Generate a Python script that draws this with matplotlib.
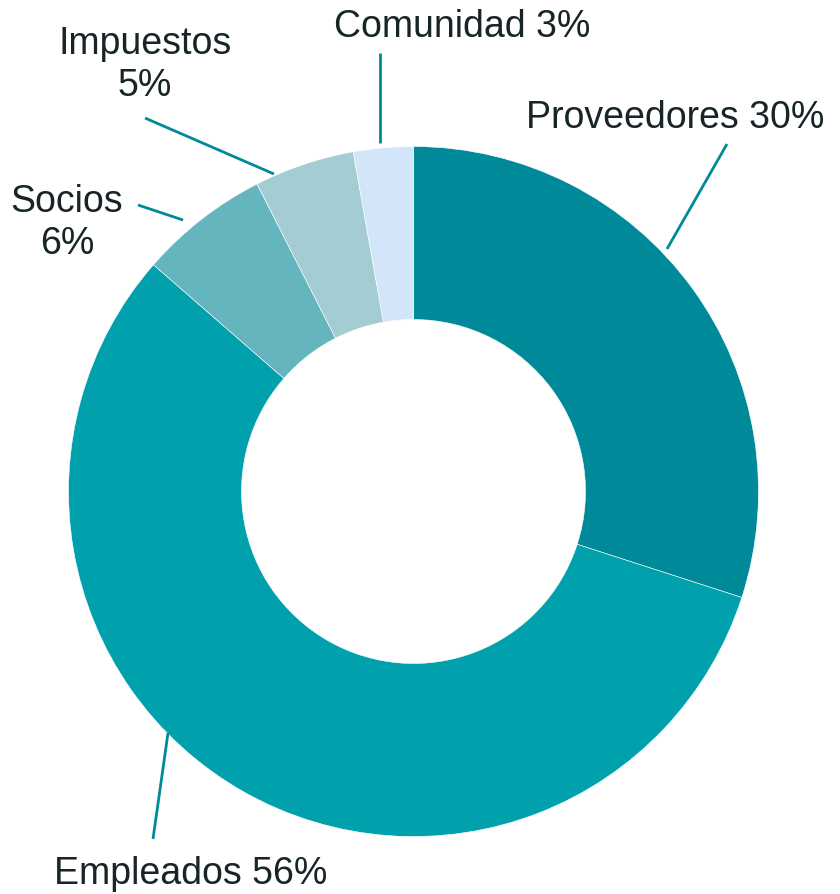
import matplotlib.pyplot as plt

# --- Data ---
CATEGORIES = ["Proveedores", "Empleados", "Socios", "Impuestos", "Comunidad"]
SHARES = [30.0, 56.5, 6.1, 4.7, 2.8]
LABELS = ["Proveedores 30%", "Empleados 56%", "Socios\n6%", "Impuestos\n5%", "Comunidad 3%"]

COLORS = ["#008A99", "#00A0AD", "#65B5BF", "#A3CDD3", "#D3E6F9"]
LINE_COLOR = "#008A99"
TEXT_COLOR = "#172526"

W, H = 840, 894

# layout in pixel space (top-left origin): label centre, leader line start/end
LABEL_POS = {
    "Proveedores": (675, 118),
    "Empleados": (191, 874),
    "Socios": (67, 223),
    "Impuestos": (145, 65),
    "Comunidad": (462, 27),
}
LEADERS = {
    "Proveedores": ((667, 249), (727, 144)),
    "Empleados": ((168, 733), (153, 839)),
    "Socios": ((183, 220), (138, 205)),
    "Impuestos": ((274, 174), (145, 118)),
    "Comunidad": ((380, 143), (380, 53)),
}

plt.rcParams["font.family"] = ["Liberation Sans", "DejaVu Sans"]

fig = plt.figure(figsize=(W / 100, H / 100), dpi=100)
ax = fig.add_axes([0, 0, 1, 1])

ax.pie(
    SHARES,
    colors=COLORS,
    startangle=90,
    counterclock=False,
    center=(413.5, H - 491.5),
    radius=345,
    wedgeprops={"width": 173, "edgecolor": "white", "linewidth": 0.4},
    frame=True,
)
ax.set_xlim(0, W)
ax.set_ylim(0, H)
ax.set_aspect("equal")
ax.axis("off")

for cat, label in zip(CATEGORIES, LABELS):
    (x0, y0), (x1, y1) = LEADERS[cat]
    ax.plot([x0, x1], [H - y0, H - y1], color=LINE_COLOR, lw=2, solid_capstyle="butt")
    lx, ly = LABEL_POS[cat]
    ax.text(lx, H - ly, label, ha="center", va="center", fontsize=27,
            color=TEXT_COLOR, linespacing=1.2)

plt.savefig("out.png", dpi=100)
